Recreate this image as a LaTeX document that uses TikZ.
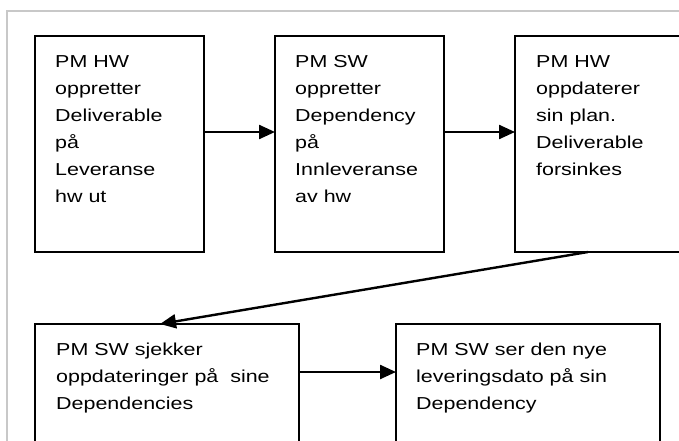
\documentclass[tikz,border=0pt]{standalone}
\usepackage{fontspec}
\setmainfont{Liberation Sans}[FakeStretch=1.24]
\usetikzlibrary{arrows.meta}
\begin{document}
\begin{tikzpicture}[x=1pt,y=-1pt,
  box/.style={draw=black, line width=1.8pt, minimum width=169pt, inner sep=0pt, outer sep=0pt},
  txt/.style={anchor=north west, inner sep=0pt, align=left, font={\fontsize{17.3}{27}\selectfont}},
  arr/.style={line width=2.4pt, -{Triangle[length=16pt,width=14pt]}},
  frame/.style={draw={rgb,255:red,200;green,200;blue,200}, line width=1.5pt}]
\clip (0,0) rectangle (679,441);
\fill[white] (0,0) rectangle (679,441);
\draw[frame] (7,460) -- (7,11) -- (700,11);
% top row
\node[box, minimum height=216pt, anchor=north west] (b1) at (35,36) {};
\node[box, minimum height=216pt, anchor=north west] (b2) at (275,36) {};
\node[box, minimum height=216pt, anchor=north west] (b3) at (515,36) {};
% bottom row
\node[box, minimum width=264pt, minimum height=150pt, anchor=north west] (b4) at (35,324) {};
\node[box, minimum width=264pt, minimum height=150pt, anchor=north west] (b5) at (396,324) {};
% texts
\node[txt] (t1) at (55,54) {\rule{0pt}{13pt}PM HW\\oppretter\\Deliverable\\på\\Leveranse\\hw ut};
\node[txt] (t2) at (295,54) {\rule{0pt}{13pt}PM SW\\oppretter\\Dependency\\på\\Innleveranse\\av hw};
\node[txt] (t3) at (536,54) {\rule{0pt}{13pt}PM HW\\oppdaterer\\sin plan.\\Deliverable\\forsinkes};
\node[txt] (t4) at (56,342) {\rule{0pt}{13pt}PM SW sjekker\\oppdateringer på\ \ sine\\Dependencies};
\node[txt] (t5) at (416,342) {\rule{0pt}{13pt}PM SW ser den nye\\leveringsdato på sin\\Dependency};
% connectors
\draw[arr] ([yshift=12pt]b1.east) -- ([yshift=12pt]b2.west);
\draw[arr] ([yshift=12pt]b2.east) -- ([yshift=12pt]b3.west);
\draw[arr] ([xshift=73pt]b3.south west) -- ([xshift=125pt]b4.north west);
\draw[arr] ([yshift=27pt]b4.east) -- ([yshift=27pt]b5.west);
\end{tikzpicture}
\end{document}
